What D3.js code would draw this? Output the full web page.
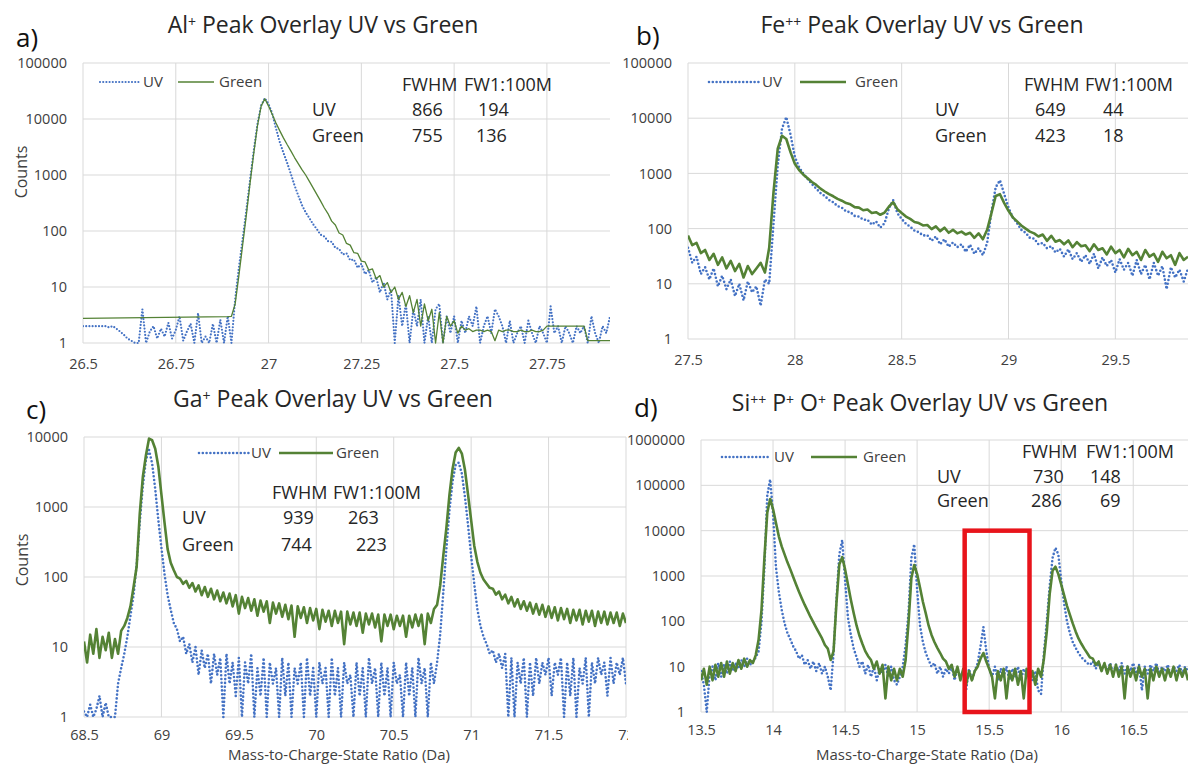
<!DOCTYPE html>
<html>
<head>
<meta charset="utf-8">
<script src="https://cdn.jsdelivr.net/npm/d3@7"></script>
<style>
  body { margin: 0; background: #fff; }
  svg { display: block; }
</style>
</head>
<body>
<div id="chart"></div>
<script>
// ---- panel a: Al+ ----
const aMz = [
  26.5,26.51,26.52,26.53,26.54,26.55,26.56,26.57,26.58,26.59,
  26.6,26.61,26.62,26.63,26.64,26.65,26.66,26.67,26.68,26.69,
  26.7,26.71,26.72,26.73,26.74,26.75,26.76,26.77,26.78,26.79,
  26.8,26.81,26.82,26.83,26.84,26.85,26.86,26.87,26.88,26.89,
  26.9,26.91,26.92,26.93,26.94,26.95,26.96,26.97,26.98,26.99,
  27,27.01,27.02,27.03,27.04,27.05,27.06,27.07,27.08,27.09,
  27.1,27.11,27.12,27.13,27.14,27.15,27.16,27.17,27.18,27.19,
  27.2,27.21,27.22,27.23,27.24,27.25,27.26,27.27,27.28,27.29,
  27.3,27.31,27.32,27.33,27.34,27.35,27.36,27.37,27.38,27.39,
  27.4,27.41,27.42,27.43,27.44,27.45,27.46,27.47,27.48,27.49,
  27.5,27.51,27.52,27.53,27.54,27.55,27.56,27.57,27.58,27.59,
  27.6,27.61,27.62,27.63,27.64,27.65,27.66,27.67,27.68,27.69,
  27.7,27.71,27.72,27.73,27.74,27.75,27.76,27.77,27.78,27.79,
  27.8,27.81,27.82,27.83,27.84,27.85,27.86,27.87,27.88,27.89,
  27.9,27.91,27.92
]
const aUV = [
  2,2,2,2,2,2,2,1.9,2,1.8,
  1.6,1.4,1.2,1.1,1,1,4,1,1.6,2,
  1.2,1.8,1.3,2.3,1.2,1.7,3,1.1,1.6,2.2,
  1,3.4,1,1.3,1,2.2,1,2.6,1,3,
  1,6,22,70,230,800,2700,8000,17500,23500,
  18500,12500,6800,3900,2500,1650,1050,650,430,290,
  215,170,132,108,86,80,66,64,50,48,
  38,40,30,31,22,26,17,20,12,15,
  8,12,6,9,1,7,2,5,1,4,
  2,6,1,3,1,4,5,1,3,1.5,
  3,1,2.5,1.5,3,2,4.5,1,2,3,
  1.5,4,3,2,1,2.5,1,1.5,2,1,
  2.5,1.5,1,2,1.5,1,4.5,1.5,2,1,
  2,1.5,1,2,1.5,2,1,3,1.5,1,
  2,1.5,3
]
const aGreen = [
  2.75,null,null,null,null,null,null,null,null,null,
  null,null,null,null,null,null,null,null,null,null,
  null,null,null,null,null,null,null,null,null,null,
  null,null,null,null,null,null,null,null,null,2.95,
  3,5,16,55,190,700,2400,7500,17000,23000,
  17000,12000,8500,6200,4600,3500,2700,2050,1600,1250,
  1000,770,590,450,345,260,205,150,128,92,
  85,60,56,41,40,29,28,20,21,14,
  16,10,12,8,10,6,8,4.5,7,3.5,
  6,2,5,2.5,4,1,3.5,1,3,2,
  2.5,1.5,2,1.7,1.8,1.6,1.7,1.7,1.6,1.7,
  1.6,1.1,1.7,1.6,1.7,1.7,1.6,1.6,1.7,1.6,
  1.6,1.7,1.6,1.6,1.7,2,2,2,2,2,
  2,2,2,2,2,2,1.1,1.1,1.1,1.1,
  1.1,1.1,1.1
]
const aXTicks = [26.5, 26.75, 27, 27.25, 27.5, 27.75]
const aYTicks = [1, 10, 100, 1000, 10000, 100000]
const aTitle = [['Al', 0], ['+', 1], [' Peak Overlay UV vs Green', 0]]
const aStats = [['UV', '866', '194'], ['Green', '755', '136']]

// ---- panel b: Fe++ ----
const bMz = [
  27.5,27.52,27.54,27.56,27.58,27.6,27.62,27.64,27.66,27.68,
  27.7,27.72,27.74,27.76,27.78,27.8,27.82,27.84,27.86,27.88,
  27.9,27.92,27.94,27.96,27.98,28,28.02,28.04,28.06,28.08,
  28.1,28.12,28.14,28.16,28.18,28.2,28.22,28.24,28.26,28.28,
  28.3,28.32,28.34,28.36,28.38,28.4,28.42,28.44,28.46,28.48,
  28.5,28.52,28.54,28.56,28.58,28.6,28.62,28.64,28.66,28.68,
  28.7,28.72,28.74,28.76,28.78,28.8,28.82,28.84,28.86,28.88,
  28.9,28.92,28.94,28.96,28.98,29,29.02,29.04,29.06,29.08,
  29.1,29.12,29.14,29.16,29.18,29.2,29.22,29.24,29.26,29.28,
  29.3,29.32,29.34,29.36,29.38,29.4,29.42,29.44,29.46,29.48,
  29.5,29.52,29.54,29.56,29.58,29.6,29.62,29.64,29.66,29.68,
  29.7,29.72,29.74,29.76,29.78,29.8,29.82,29.84
]
const bUV = [
  45,24,31,15,20,12,19,9,14,8,
  12,6,10,5,11,7,9,4,12,10,
  120,1400,6500,10500,5000,2000,1300,980,790,640,
  530,440,390,330,300,255,240,205,198,170,
  165,145,145,118,135,104,125,230,330,190,
  150,122,108,92,86,75,76,60,72,52,
  64,47,56,46,52,38,51,35,44,33,
  55,200,560,750,420,240,160,125,95,84,
  68,66,52,55,44,48,37,43,31,42,
  28,36,25,33,23,35,19,30,21,27,
  16,28,18,24,14,27,15,22,12,24,
  14,21,8,20,13,18,11,19
]
const bGreen = [
  75,50,55,36,41,27,35,22,30,19,
  26,17,23,13,21,15,19,24,16,45,
  450,2800,4800,4200,2400,1500,1150,950,820,700,
  620,530,470,420,385,345,320,290,275,245,
  240,215,222,192,198,178,195,250,300,225,
  192,165,150,132,126,114,116,98,110,90,
  104,84,95,82,88,78,84,68,82,64,
  95,190,390,420,290,210,160,135,114,100,
  88,82,72,78,60,74,58,62,52,61,
  46,57,48,50,39,52,41,44,34,47,
  36,41,30,43,33,38,27,41,31,35,
  25,38,29,33,22,36,27,31
]
const bXTicks = [27.5, 28, 28.5, 29, 29.5]
const bYTicks = [1, 10, 100, 1000, 10000, 100000]
const bTitle = [['Fe', 0], ['++', 1], [' Peak Overlay UV vs Green', 0]]
const bStats = [['UV', '649', '44'], ['Green', '423', '18']]

// ---- panel c: Ga+ ----
const cMz = [
  68.5,68.52,68.54,68.56,68.58,68.6,68.62,68.64,68.66,68.68,
  68.7,68.72,68.74,68.76,68.78,68.8,68.82,68.84,68.86,68.88,
  68.9,68.92,68.94,68.96,68.98,69,69.02,69.04,69.06,69.08,
  69.1,69.12,69.14,69.16,69.18,69.2,69.22,69.24,69.26,69.28,
  69.3,69.32,69.34,69.36,69.38,69.4,69.42,69.44,69.46,69.48,
  69.5,69.52,69.54,69.56,69.58,69.6,69.62,69.64,69.66,69.68,
  69.7,69.72,69.74,69.76,69.78,69.8,69.82,69.84,69.86,69.88,
  69.9,69.92,69.94,69.96,69.98,70,70.02,70.04,70.06,70.08,
  70.1,70.12,70.14,70.16,70.18,70.2,70.22,70.24,70.26,70.28,
  70.3,70.32,70.34,70.36,70.38,70.4,70.42,70.44,70.46,70.48,
  70.5,70.52,70.54,70.56,70.58,70.6,70.62,70.64,70.66,70.68,
  70.7,70.72,70.74,70.76,70.78,70.8,70.82,70.84,70.86,70.88,
  70.9,70.92,70.94,70.96,70.98,71,71.02,71.04,71.06,71.08,
  71.1,71.12,71.14,71.16,71.18,71.2,71.22,71.24,71.26,71.28,
  71.3,71.32,71.34,71.36,71.38,71.4,71.42,71.44,71.46,71.48,
  71.5,71.52,71.54,71.56,71.58,71.6,71.62,71.64,71.66,71.68,
  71.7,71.72,71.74,71.76,71.78,71.8,71.82,71.84,71.86,71.88,
  71.9,71.92,71.94,71.96,71.98,72
]
const cUV = [
  1.2,1,1.5,1,1.3,2,1,1.6,1,1,
  1,3,5,8,14,28,55,150,600,2000,
  4700,6500,4200,1800,650,260,110,55,34,22,
  18,12,14,8,11,6,10,4,9,5,
  8,3,8,4,7,1,8,3,6,2,
  7,1,6,3,8,1,5,2,7,1,
  6,3,5,1,7,2,6,1,5,3,
  6,1,7,2,5,1,6,3,5,1,
  7,2,5,1,6,3,4,1,6,2,
  5,1,7,3,5,1,6,2,5,1,
  6,3,4,1,6,2,5,1,7,3,
  5,1,6,3,6,15,60,250,900,2300,
  4000,4300,3000,1400,550,200,80,35,20,14,
  11,8,9,6,8,5,8,1,7,1,
  6,3,7,1,6,2,7,3,6,4,
  7,2,6,4,7,1,6,2,7,1,
  5,3,7,1,6,3,7,4,6,2,
  7,3,6,4,7,3
]
const cGreen = [
  12,6,15,8,18,7,14,9,16,7,
  13,8,17,20,26,38,72,140,800,2700,
  5500,9500,9000,6800,3800,1500,600,250,160,125,
  100,95,80,88,70,82,62,76,55,72,
  52,68,48,64,45,60,42,58,38,55,
  30,52,36,50,33,48,28,46,32,45,
  22,43,30,42,27,40,25,39,14,38,
  26,37,22,36,24,35,18,34,23,33,
  20,33,22,32,11,32,21,31,20,31,
  16,30,21,30,19,29,12,29,20,29,
  18,28,20,28,14,28,19,29,20,29,
  11,30,22,35,40,75,200,500,1500,3500,
  6000,7000,5800,3400,1500,650,280,165,115,92,
  80,70,68,56,62,48,56,42,52,38,
  48,35,45,33,43,30,41,29,40,27,
  38,26,37,24,36,25,35,22,34,24,
  34,21,33,23,33,20,32,22,32,21,
  31,22,31,20,30,22
]
const cXTicks = [68.5, 69, 69.5, 70, 70.5, 71, 71.5, 72]
const cYTicks = [1, 10, 100, 1000, 10000]
const cTitle = [['Ga', 0], ['+', 1], [' Peak Overlay UV vs Green', 0]]
const cStats = [['UV', '939', '263'], ['Green', '744', '223']]

// ---- panel d: Si++ P+ O+ ----
const dMz = [
  13.5,13.52,13.54,13.56,13.58,13.6,13.62,13.64,13.66,13.68,
  13.7,13.72,13.74,13.76,13.78,13.8,13.82,13.84,13.86,13.88,
  13.9,13.92,13.94,13.96,13.98,14,14.02,14.04,14.06,14.08,
  14.1,14.12,14.14,14.16,14.18,14.2,14.22,14.24,14.26,14.28,
  14.3,14.32,14.34,14.36,14.38,14.4,14.42,14.44,14.46,14.48,
  14.5,14.52,14.54,14.56,14.58,14.6,14.62,14.64,14.66,14.68,
  14.7,14.72,14.74,14.76,14.78,14.8,14.82,14.84,14.86,14.88,
  14.9,14.92,14.94,14.96,14.98,15,15.02,15.04,15.06,15.08,
  15.1,15.12,15.14,15.16,15.18,15.2,15.22,15.24,15.26,15.28,
  15.3,15.32,15.34,15.36,15.38,15.4,15.42,15.44,15.46,15.48,
  15.5,15.52,15.54,15.56,15.58,15.6,15.62,15.64,15.66,15.68,
  15.7,15.72,15.74,15.76,15.78,15.8,15.82,15.84,15.86,15.88,
  15.9,15.92,15.94,15.96,15.98,16,16.02,16.04,16.06,16.08,
  16.1,16.12,16.14,16.16,16.18,16.2,16.22,16.24,16.26,16.28,
  16.3,16.32,16.34,16.36,16.38,16.4,16.42,16.44,16.46,16.48,
  16.5,16.52,16.54,16.56,16.58,16.6,16.62,16.64,16.66,16.68,
  16.7,16.72,16.74,16.76,16.78,16.8,16.82,16.84,16.86,16.88
]
const dUV = [
  8,4,1,7,10,5,12,6,11,7,
  13,8,12,9,14,10,15,11,13,16,
  22,100,1500,60000,135000,24000,1600,450,180,90,
  55,40,28,22,15,18,11,14,9,13,
  8,12,7,10,6,3,20,300,3000,6200,
  800,120,50,25,16,10,13,7,11,6,
  10,5,9,7,11,6,10,5,4,6,
  10,30,150,2500,5000,500,80,35,20,14,
  10,12,7,10,6,9,7,10,5,9,
  6,8,3,9,5,8,12,28,75,22,
  9,6,10,5,9,6,10,5,9,6,
  10,5,9,6,10,5,8,3,2.5,20,
  100,600,2500,4200,3000,800,250,100,55,35,
  26,20,16,14,12,11,13,9,12,8,
  11,8,12,7,11,8,12,7,10,8,
  12,7,11,3,10,7,11,8,12,7,
  10,8,11,6,10,8,11,7,10,8
]
const dGreen = [
  5,9,4,10,5,11,6,12,6,13,
  7,12,8,14,9,15,10,14,12,18,
  40,180,2500,25000,50000,30000,15000,7500,4500,3000,
  2000,1400,950,650,450,320,230,170,125,95,
  72,55,42,30,25,14,22,250,1800,2600,
  1400,650,300,150,80,48,32,22,17,14,
  9,13,7,11,2,10,5,9,5,9,
  6,14,90,900,1750,1100,560,270,150,80,
  50,35,26,20,15,13,9,11,6,10,
  5,9,4,8,5,8,10,15,20,13,
  9,6,2,8,5,9,2,8,5,9,
  4,8,2,9,5,8,4,9,6,15,
  60,400,1300,1600,1100,650,380,220,140,90,
  60,42,32,25,20,16,15,11,13,8,
  12,7,11,6,11,6,10,2,10,6,
  9,5,10,6,9,2,9,5,10,6,
  9,5,9,6,10,5,9,6,9,5
]
const dXTicks = [13.5, 14, 14.5, 15, 15.5, 16, 16.5]
const dYTicks = [1, 10, 100, 1000, 10000, 100000, 1000000]
const dTitle = [['Si', 0], ['++', 1], ['  P', 0], ['+', 1], [' O', 0], ['+', 1], [' Peak Overlay UV vs Green', 0]]
const dStats = [['UV', '730', '148'], ['Green', '286', '69']]
const dBox = [15.33, 15.78, 1, 10000] // highlighted region: mz from, mz to, counts low, counts high

const statsHeader = ['FWHM', 'FW1:100M']
const xTitle = 'Mass-to-Charge-State Ratio (Da)'
const yTitle = 'Counts'

// ---- layout ----
const font = "'Open Sans', sans-serif"
const blue = '#4472c4'
const green = '#548235'
const gridColor = '#d9d9d9'
const tickColor = '#404040'
const textColor = '#262626'

const panels = [
  {
    key: 'a', letter: 'a)', letterPos: [16, 47],
    title: aTitle, titlePos: [323, 33],
    mz: aMz, uv: aUV, green: aGreen,
    xDomain: [26.5, 27.92], xTicks: aXTicks, yTicks: aYTicks,
    box: { left: 83, right: 610, top: 63, bottom: 343 }, xPad: 16,
    gW: 1.3, uvW: 2.2, uvDash: '0 3.2',
    yTitlePos: [21, 172],
    legend: { y: 82, uv: [100, 140], uvText: 143, g: [178, 214], gText: 219 },
    stats: aStats, statsHead: { y: 85, x: [402, 464] },
    statsRows: [{ y: 110, x: [312, 412, 478] }, { y: 136, x: [312, 412, 476] }]
  },
  {
    key: 'c', letter: 'c)', letterPos: [26, 419],
    title: cTitle, titlePos: [333, 407],
    mz: cMz, uv: cUV, green: cGreen,
    xDomain: [68.5, 72], xTicks: cXTicks, yTicks: cYTicks,
    box: { left: 84, right: 626, top: 437, bottom: 717 }, xPad: 13,
    gW: 2.6, uvW: 2.6, uvDash: '0 3.8',
    yTitlePos: [22, 560], xTitlePos: [339, 760],
    legend: { y: 453, uv: [199, 249], uvText: 251, g: [279, 333], gText: 336 },
    stats: cStats, statsHead: { y: 493, x: [272, 333] },
    statsRows: [{ y: 518, x: [182, 283, 348] }, { y: 545, x: [182, 281, 356] }]
  },
  {
    key: 'b', letter: 'b)', letterPos: [636, 45], bg: [612, 0, 576, 380],
    title: bTitle, titlePos: [922, 33],
    mz: bMz, uv: bUV, green: bGreen,
    xDomain: [27.5, 29.84], xTicks: bXTicks, yTicks: bYTicks,
    box: { left: 688, right: 1188, top: 63, bottom: 339 }, xPad: 16,
    gW: 2.6, uvW: 2.6, uvDash: '0 3.8',
    legend: { y: 82, uv: [709, 759], uvText: 762, g: [800, 846], gText: 855 },
    stats: bStats, statsHead: { y: 85, x: [1024, 1085] },
    statsRows: [{ y: 110, x: [935, 1035, 1103] }, { y: 136, x: [935, 1035, 1103] }]
  },
  {
    key: 'd', letter: 'd)', letterPos: [634, 417], bg: [628, 380, 560, 385],
    title: dTitle, titlePos: [920, 411],
    mz: dMz, uv: dUV, green: dGreen,
    xDomain: [13.5, 16.88], xTicks: dXTicks, yTicks: dYTicks,
    box: { left: 701, right: 1188, top: 440, bottom: 712 }, xPad: 13,
    gW: 2.6, uvW: 2.6, uvDash: '0 3.8',
    xTitlePos: [927, 760], highlight: dBox,
    legend: { y: 457, uv: [722, 770], uvText: 774, g: [811, 857], gText: 863 },
    stats: dStats, statsHead: { y: 452, x: [1022, 1086] },
    statsRows: [{ y: 477, x: [937, 1033, 1090] }, { y: 501, x: [937, 1031, 1100] }]
  }
]

const svg = d3.select('#chart').append('svg')
  .attr('width', 1188)
  .attr('height', 765)
  .style('font-family', font)

svg.append('rect').attr('width', 1188).attr('height', 765).attr('fill', '#fff')

panels.forEach(drawPanel)

function drawPanel(p) {
  const b = p.box
  const x = d3.scaleLinear().domain(p.xDomain).range([b.left, b.right])
  const y = d3.scaleLog().domain([1, d3.max(p.yTicks)]).range([b.bottom, b.top])
  const g = svg.append('g').attr('class', 'panel-' + p.key)

  if (p.bg) {
    g.append('rect')
      .attr('x', p.bg[0]).attr('y', p.bg[1])
      .attr('width', p.bg[2]).attr('height', p.bg[3])
      .attr('fill', '#fff')
  }

  // gridlines
  g.append('g').selectAll('line').data(p.yTicks).join('line')
    .attr('x1', b.left).attr('x2', b.right)
    .attr('y1', d => y(d)).attr('y2', d => y(d))
    .attr('stroke', gridColor).attr('stroke-width', 1)
  g.append('g').selectAll('line').data(p.xTicks).join('line')
    .attr('x1', d => x(d)).attr('x2', d => x(d))
    .attr('y1', b.top).attr('y2', b.bottom)
    .attr('stroke', gridColor).attr('stroke-width', 1)

  // axes (labels only, Excel style)
  const yAxis = g.append('g')
    .attr('transform', `translate(${b.left},0)`)
    .call(d3.axisLeft(y).tickValues(p.yTicks).tickFormat(d => String(d)).tickSize(0).tickPadding(16))
    .attr('font-family', font).attr('font-size', 14.5).attr('color', tickColor)
  yAxis.select('.domain').remove()

  const xAxis = g.append('g')
    .attr('transform', `translate(0,${b.bottom})`)
    .call(d3.axisBottom(x).tickValues(p.xTicks).tickFormat(d => String(d)).tickSize(0).tickPadding(p.xPad))
    .attr('font-family', font).attr('font-size', 14.5).attr('color', tickColor)
  xAxis.select('.domain').remove()

  // series
  const clipId = 'clip-' + p.key
  g.append('clipPath').attr('id', clipId).append('rect')
    .attr('x', b.left).attr('y', b.top - 2)
    .attr('width', b.right - b.left).attr('height', b.bottom - b.top + 4)

  const line = d3.line().x(d => x(d[0])).y(d => y(d[1]))
  const uvPts = p.mz.map((m, i) => [m, p.uv[i]]).filter(d => d[1] != null)
  const gPts = p.mz.map((m, i) => [m, p.green[i]]).filter(d => d[1] != null)

  const plot = g.append('g').attr('clip-path', `url(#${clipId})`)
  plot.append('path').datum(uvPts)
    .attr('d', line)
    .attr('fill', 'none')
    .attr('stroke', blue)
    .attr('stroke-width', p.uvW)
    .attr('stroke-dasharray', p.uvDash)
    .attr('stroke-linecap', 'round')
  plot.append('path').datum(gPts)
    .attr('d', line)
    .attr('fill', 'none')
    .attr('stroke', green)
    .attr('stroke-width', p.gW)
    .attr('stroke-linejoin', 'round')

  if (p.highlight) {
    const h = p.highlight
    g.append('rect')
      .attr('x', x(h[0])).attr('y', y(h[3]))
      .attr('width', x(h[1]) - x(h[0]))
      .attr('height', y(h[2]) - y(h[3]))
      .attr('fill', 'none')
      .attr('stroke', '#e8141b')
      .attr('stroke-width', 4.5)
  }

  // legend
  const L = p.legend
  g.append('line')
    .attr('x1', L.uv[0]).attr('x2', L.uv[1]).attr('y1', L.y).attr('y2', L.y)
    .attr('stroke', blue).attr('stroke-width', p.uvW)
    .attr('stroke-dasharray', p.uvDash).attr('stroke-linecap', 'round')
  g.append('line')
    .attr('x1', L.g[0]).attr('x2', L.g[1]).attr('y1', L.y).attr('y2', L.y)
    .attr('stroke', green).attr('stroke-width', p.gW)
  g.append('text').attr('x', L.uvText).attr('y', L.y).attr('dy', '0.35em')
    .attr('font-size', 15).attr('fill', tickColor).text('UV')
  g.append('text').attr('x', L.gText).attr('y', L.y).attr('dy', '0.35em')
    .attr('font-size', 15).attr('fill', tickColor).text('Green')

  // stats table
  g.selectAll('.head').data(statsHeader).join('text')
    .attr('x', (d, i) => p.statsHead.x[i]).attr('y', p.statsHead.y).attr('dy', '0.35em')
    .attr('font-size', 18).attr('fill', textColor).text(d => d)
  p.stats.forEach((row, r) => {
    g.selectAll('.row' + r).data(row).join('text')
      .attr('x', (d, i) => p.statsRows[r].x[i]).attr('y', p.statsRows[r].y).attr('dy', '0.35em')
      .attr('font-size', 18).attr('fill', textColor).text(d => d)
  })

  // title with superscripts
  const t = g.append('text')
    .attr('x', p.titlePos[0]).attr('y', p.titlePos[1])
    .attr('text-anchor', 'middle').attr('font-size', 23).attr('fill', textColor)
  p.title.forEach(seg => {
    const s = t.append('tspan').text(seg[0])
    if (seg[1]) s.attr('font-size', 14).attr('baseline-shift', '40%')
  })

  g.append('text')
    .attr('x', p.letterPos[0]).attr('y', p.letterPos[1])
    .attr('font-size', 26).attr('fill', '#111').text(p.letter)

  if (p.yTitlePos) {
    g.append('text')
      .attr('transform', `translate(${p.yTitlePos[0]},${p.yTitlePos[1]}) rotate(-90)`)
      .attr('text-anchor', 'middle').attr('dy', '0.35em')
      .attr('font-size', 16).attr('fill', tickColor).text(yTitle)
  }
  if (p.xTitlePos) {
    g.append('text')
      .attr('x', p.xTitlePos[0]).attr('y', p.xTitlePos[1])
      .attr('text-anchor', 'middle')
      .attr('font-size', 15).attr('fill', tickColor).text(xTitle)
  }
}
</script>
</body>
</html>
